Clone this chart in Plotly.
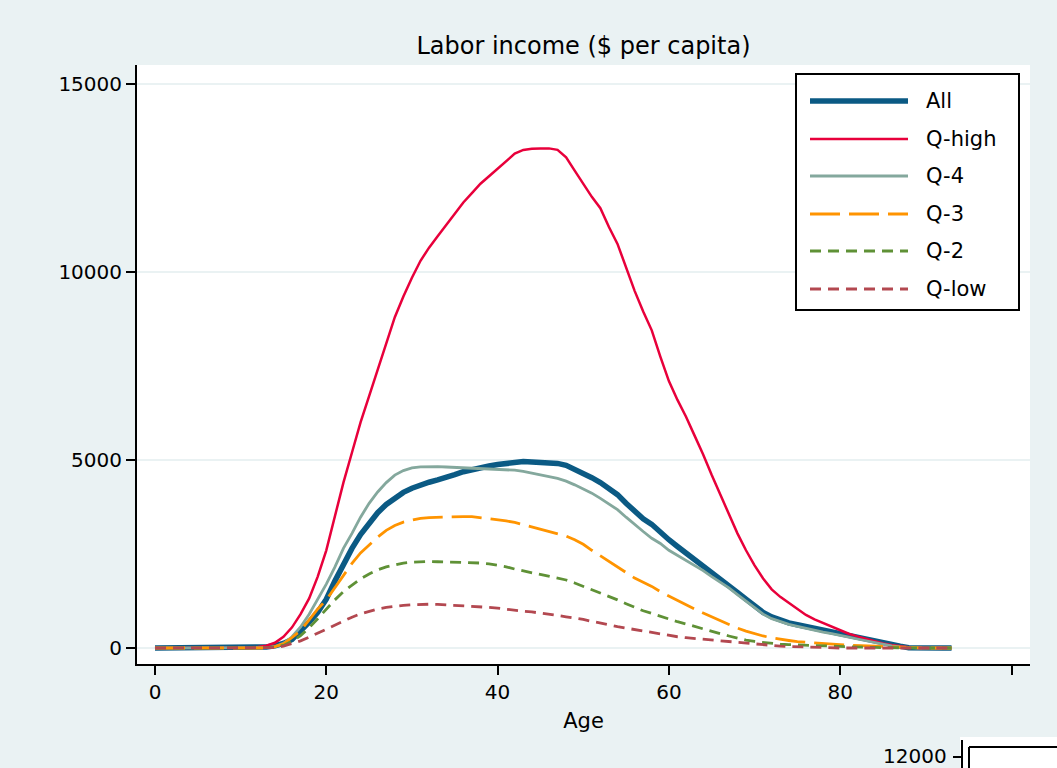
import plotly.graph_objects as go

ages = list(range(0, 94))

all_vals = [0]*11 + [5, 15, 30, 60, 120, 230, 440, 690, 950, 1300, 1780, 2250, 2650, 3020, 3330,
    3600, 3820, 4000, 4140, 4250, 4340, 4410, 4470, 4530, 4610, 4690, 4750, 4800, 4840, 4880,
    4910, 4940, 4960, 4950, 4940, 4930, 4910, 4860, 4760, 4640, 4530, 4400, 4250, 4080, 3850,
    3620, 3440, 3290, 3070, 2880, 2700, 2530, 2370, 2200, 2020, 1850, 1680, 1480, 1300, 1120,
    950, 830, 740, 670, 620, 570, 520, 470, 430, 390, 340, 290, 240, 190, 140, 90, 50, 10,
    0, 0, 0, 0, 0]

q_high = [0]*11 + [15, 30, 60, 140, 300, 550, 900, 1320, 1900, 2600, 3500, 4400, 5200, 6000, 6700,
    7400, 8100, 8800, 9350, 9850, 10300, 10650, 10950, 11250, 11550, 11850, 12100, 12350, 12550, 12750,
    12950, 13150, 13250, 13280, 13290, 13290, 13250, 13050, 12700, 12350, 12000, 11700, 11200, 10750, 10100,
    9500, 8950, 8450, 7750, 7100, 6600, 6150, 5650, 5150, 4600, 4080, 3550, 3050, 2600, 2200,
    1850, 1560, 1360, 1200, 1030, 880, 760, 660, 560, 470, 380, 310, 240, 170, 120, 80, 45, 20,
    0, 0, 0, 0, 0]

q_4 = [0]*13 + [10, 40, 125, 300, 560, 900, 1300, 1700, 2150, 2650, 3050, 3480, 3850,
    4150, 4400, 4600, 4720, 4790, 4820, 4830, 4825, 4815, 4805, 4800, 4790, 4780, 4770, 4755,
    4750, 4730, 4700, 4660, 4610, 4560, 4510, 4440, 4340, 4240, 4120, 3980, 3830, 3680, 3480,
    3280, 3100, 2920, 2780, 2600, 2470, 2330, 2200, 2060, 1900, 1750, 1600, 1420, 1250, 1080,
    900, 780, 700, 630, 575, 520, 470, 420, 380, 340, 290, 240, 190, 140, 95, 55, 30, 10,
    0, 0, 0, 0, 0]

q_3 = [0]*14 + [40, 110, 280, 460, 750, 1040, 1280, 1600, 1900, 2250, 2530, 2750,
    2950, 3130, 3260, 3350, 3410, 3450, 3470, 3480, 3485, 3490, 3495, 3495, 3470, 3440, 3410,
    3380, 3340, 3280, 3210, 3150, 3100, 3040, 2980, 2880, 2760, 2600, 2450, 2300, 2150, 2000,
    1860, 1750, 1640, 1500, 1380, 1280, 1150, 1040, 930, 830, 720, 620, 530, 450, 380,
    320, 270, 230, 200, 170, 150, 130, 110, 100, 90, 75, 65, 55, 45, 35, 25, 15, 5,
    0, 0, 0, 0, 0]

q_2 = [0]*14 + [20, 70, 180, 330, 540, 780, 1030, 1280, 1500, 1680, 1840, 1970,
    2080, 2160, 2220, 2260, 2285, 2295, 2300, 2295, 2290, 2285, 2280, 2270, 2260, 2240, 2210,
    2160, 2100, 2050, 2000, 1960, 1910, 1860, 1810, 1730, 1640, 1570, 1480, 1380, 1280, 1180,
    1080, 990, 920, 840, 760, 700, 640, 570, 500, 440, 380, 320, 260, 210, 175,
    145, 120, 100, 90, 80, 70, 60, 50, 45, 40, 35, 25, 20, 15, 10, 5,
    0, 0, 0, 0, 0, 0, 0]

q_low = [0]*14 + [10, 50, 110, 190, 290, 400, 510, 620, 720, 820, 910, 980,
    1040, 1080, 1110, 1135, 1150, 1160, 1165, 1160, 1150, 1140, 1130, 1115, 1100, 1080, 1060,
    1030, 1000, 980, 960, 935, 900, 865, 830, 800, 760, 710, 670, 620, 570, 530,
    490, 460, 420, 380, 340, 300, 275, 255, 235, 210, 180, 170, 150, 120, 100,
    80, 65, 50, 40, 30, 20, 15, 10] + [0]*15

series_names = ["All", "Q-high", "Q-4", "Q-3", "Q-2", "Q-low"]
series_vals = [all_vals, q_high, q_4, q_3, q_2, q_low]
colors = ["#0B5A84", "#E8003B", "#84A89D", "#FF9400", "#5F9136", "#B34850"]
widths = [5.5, 2.5, 2.8, 2.8, 2.8, 2.8]
dashes = ["solid", "solid", "solid", "30px,9px", "11px,7px", "11px,7px"]

x_tickvals = [0, 20, 40, 60, 80, 100]
x_ticktext = ["0", "20", "40", "60", "80", ""]
y_tickvals = [0, 5000, 10000, 15000]
y_ticktext = ["0", "5000", "10000", "15000"]

FONT = "DejaVu Sans"
W, H = 1057, 768
PX0, PX1, PY0, PY1 = 137, 1030, 65, 664


def px(x):
    return (x - PX0) / (PX1 - PX0)


def py(y):
    return (PY1 - y) / (PY1 - PY0)


fig = go.Figure()
for name, vals, c, w, d in zip(series_names, series_vals, colors, widths, dashes):
    fig.add_trace(go.Scatter(x=ages, y=vals, mode="lines", name=name,
                             line=dict(color=c, width=w, dash=d), showlegend=False))

shapes = []
annotations = []

# legend box
shapes.append(dict(type="rect", xref="paper", yref="paper", x0=px(796), x1=px(1019),
                   y0=py(310), y1=py(74), fillcolor="white", line=dict(color="black", width=2),
                   layer="above"))
row_y = [101, 139, 176, 214, 251, 289]
for name, c, w, d, ry in zip(series_names, colors, widths, dashes, row_y):
    shapes.append(dict(type="line", xref="paper", yref="paper", x0=px(810), x1=px(908),
                       y0=py(ry), y1=py(ry), line=dict(color=c, width=w, dash=d), layer="above"))
    annotations.append(dict(xref="paper", yref="paper", x=px(924), y=py(ry), text=name,
                            showarrow=False, xanchor="left", yanchor="middle",
                            font=dict(family=FONT, size=21, color="black")))

# fragment of next panel at bottom-right
shapes.append(dict(type="rect", xref="paper", yref="paper", x0=px(960), x1=px(1070),
                   y0=py(780), y1=py(737), fillcolor="white", line=dict(width=0), layer="above"))
shapes.append(dict(type="line", xref="paper", yref="paper", x0=px(962), x1=px(962),
                   y0=py(780), y1=py(740), line=dict(color="black", width=2), layer="above"))
shapes.append(dict(type="line", xref="paper", yref="paper", x0=px(953), x1=px(962),
                   y0=py(757), y1=py(757), line=dict(color="black", width=2), layer="above"))
shapes.append(dict(type="line", xref="paper", yref="paper", x0=px(969), x1=px(1070),
                   y0=py(747), y1=py(747), line=dict(color="black", width=2), layer="above"))
shapes.append(dict(type="line", xref="paper", yref="paper", x0=px(969), x1=px(969),
                   y0=py(780), y1=py(747), line=dict(color="black", width=2), layer="above"))
annotations.append(dict(xref="paper", yref="paper", x=px(949), y=py(756), text="12000",
                        showarrow=False, xanchor="right", yanchor="middle",
                        font=dict(family=FONT, size=20, color="black")))

fig.update_layout(
    width=W, height=H,
    margin=dict(l=PX0, r=W - PX1, t=PY0, b=H - PY1, pad=0),
    paper_bgcolor="#EAF2F3",
    plot_bgcolor="white",
    font=dict(family=FONT, size=20, color="black"),
    title=dict(text="Labor income ($ per capita)", x=(PX0 + PX1) / 2 / W, xanchor="center",
               y=1 - 46 / H, yanchor="middle", font=dict(family=FONT, size=24, color="black")),
    shapes=shapes,
    annotations=annotations,
    showlegend=False,
)

fig.update_xaxes(range=[-2.1, 102.16], tickvals=x_tickvals, ticktext=x_ticktext,
                 showgrid=False, zeroline=False, showline=True, linecolor="black", linewidth=2,
                 ticks="outside", ticklen=9, tickwidth=2, tickcolor="black",
                 tickfont=dict(family=FONT, size=20, color="black"),
                 title=dict(text="Age", font=dict(family=FONT, size=21, color="black"), standoff=10))

fig.update_yaxes(range=[-425, 15508], tickvals=y_tickvals, ticktext=y_ticktext,
                 showgrid=True, gridcolor="#EAF2F3", gridwidth=2, zeroline=False,
                 showline=True, linecolor="black", linewidth=2,
                 ticks="outside", ticklen=9, tickwidth=2, tickcolor="black",
                 tickfont=dict(family=FONT, size=20, color="black"))

fig.write_html("out.html", config={"displayModeBar": False},
               post_script="document.body.style.margin='0';document.body.style.overflow='hidden';")
